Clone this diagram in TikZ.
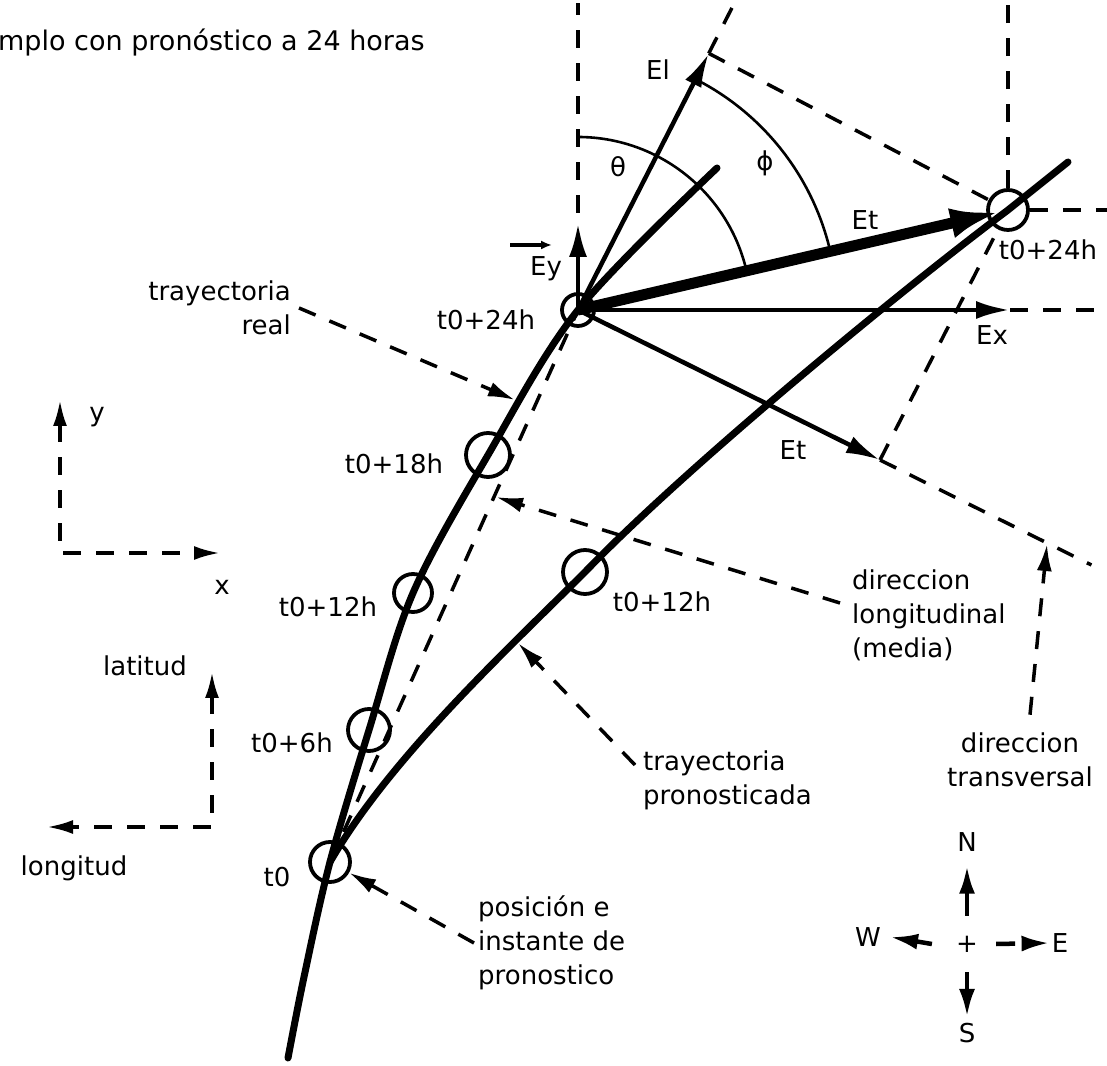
\documentclass[tikz,border=0pt]{standalone}
\usepackage{fontspec}
\setmainfont{DejaVu Sans}
\usepackage{tikz}
\usetikzlibrary{arrows.meta,calc}
\tikzset{
  track/.style={line width=7pt, line cap=round},
  posring/.style={draw, circle, line width=3.8pt, inner sep=0pt, minimum size=40pt},
  guide/.style={line width=3.5pt, dash pattern=on 18pt off 15pt},
  leader/.style={guide, -{Latex[length=27pt,width=15pt]}},
  axisline/.style={guide, {Latex[length=26pt,width=14pt]}-{Latex[length=26pt,width=14pt]}},
  vecarrow/.style={line width=4.5pt, -{Latex[length=34pt,width=18pt]}},
  errarrow/.style={line width=11pt, -{Latex[length=50pt,width=30pt]}},
  anglearc/.style={line width=2.6pt},
  compassarrow/.style={line width=4.5pt, -{Latex[length=28pt,width=16pt]}},
  lbl/.style={font=\fontsize{26}{34}\selectfont, inner sep=0pt},
}

\begin{document}
\begin{tikzpicture}[x=1pt, y=1pt]
  \useasboundingbox (0,0) rectangle (1107,1065);

  % Title
  \node[lbl, font=\fontsize{27}{32}\selectfont, anchor=west] (title) at (-2,1022) {mplo con pronóstico a 24 horas};

  % Positions (real track and forecast)
  \node[posring] (t0) at (330,203) {};
  \node[posring, minimum size=42pt] (t6) at (369,335) {};
  \node[posring, minimum size=38pt] (t12) at (413,472) {};
  \node[posring, minimum size=44pt] (t18) at (488,610) {};
  \node[posring, minimum size=32pt] (t24) at (578,755) {};
  \node[posring, minimum size=44pt] (f12) at (585,493) {};
  \node[posring] (f24) at (1008,855) {};

  \coordinate (rs) at (288,7);
  \coordinate (rb) at (304,88);
  \coordinate (re) at (717,897);
  \coordinate (fe) at (1068,903);
  \coordinate (eltip) at ($(t24)+(63:288)$);
  \coordinate (eltop) at ($(t24)+(63:350)$);
  \coordinate (eytip) at (578,842);
  \coordinate (ntop) at (578,1062);
  \coordinate (extip) at (1010,755);
  \coordinate (exend) at (1107,755);
  \coordinate (ettip) at (880,605);
  \coordinate (trend) at ($(t24)!1.70!(ettip)$);
  \coordinate (ftop) at (1008,1062);
  \coordinate (fright) at (1107,855);

  % Tracks
  \draw[track] plot[smooth, tension=0.55] coordinates {(rs) (rb) (t0.center) (t6.center) (t12.center) (t18.center) (t24.center) (re)};
  \draw[track] (t0.center) .. controls (390,307) and (505,413) .. (f12.center)
    .. controls (682,594) and (896,771) .. (f24.center) -- (fe);

  % Guide lines
  \draw[guide] (t0.center) -- (t24.center);
  \draw[guide] (eltip) -- (eltop);
  \draw[guide, shorten <=10pt] (eytip) -- (ntop);
  \draw[guide] (eltip) -- (f24);
  \draw[guide] (ettip) -- (f24);
  \draw[guide] (ettip) -- (trend);
  \draw[guide] (extip) -- (exend);
  \draw[guide] (f24) -- (ftop);
  \draw[guide] (f24) -- (fright);

  % Error vectors
  \draw[vecarrow] (t24.center) -- (eltip);
  \draw[vecarrow] (t24.center) -- (eytip);
  \draw[vecarrow] (t24.center) -- (extip);
  \draw[vecarrow] (t24.center) -- (ettip);
  \draw[errarrow, shorten >=8pt] (t24.center) -- (f24.center);

  % Angles
  \draw[anglearc] ($(t24)+(90:173)$) arc[start angle=90, end angle=13.1, radius=173];
  \draw[anglearc] ($(t24)+(63:259)$) arc[start angle=63, end angle=13.1, radius=259];

  % Labels
  \node[lbl] (lt0) at (277,188) {t0};
  \node[lbl] (lt6) at (292,322) {t0+6h};
  \node[lbl] (lt12) at (328,458) {t0+12h};
  \node[lbl] (lt18) at (394,601) {t0+18h};
  \node[lbl] (lt24) at (486,745) {t0+24h};
  \node[lbl] (lf12) at (662,463) {t0+12h};
  \node[lbl] (lf24) at (1048,815) {t0+24h};

  \node[lbl] (lel) at (658,995) {El};
  \node[lbl] (ley) at (546,796) {Ey};
  \node[lbl] (let) at (865,845) {Et};
  \node[lbl] (lex) at (992,730) {Ex};
  \node[lbl] (letr) at (793,615) {Et};
  \node[lbl] (ltheta) at (618,898) {θ};
  \node[lbl] (lphi) at (765,902) {ϕ};
  \draw[line width=3.8pt, -{Latex[length=11pt,width=9pt]}] ($(ley)+(-36,24)$) -- ($(ley)+(6,24)$);

  \node[lbl, align=right, anchor=east] (lreal) at (291,757) {trayectoria\\real};
  \node[lbl, align=left, anchor=west] (llong) at (852,450) {direccion\\longitudinal\\(media)};
  \node[lbl, align=center] (ltrans) at (1020,305) {direccion\\transversal};
  \node[lbl, align=left, anchor=west] (lpron) at (643,285) {trayectoria\\pronosticada};
  \node[lbl, align=left, anchor=west] (lpos) at (478,122) {posición e\\instante de\\pronostico};

  % Leaders
  \coordinate (realtip) at (515,665);
  \coordinate (longtip) at (496,568);
  \coordinate (prontip) at (518,422);
  \coordinate (transtip) at (1047,521);
  \draw[leader] ([xshift=8pt]lreal.east) -- (realtip);
  \draw[leader] ($(llong.west)+(-12,12)$) -- (longtip);
  \draw[leader] ($(lpron.west)+(-8,15)$) -- (prontip);
  \draw[leader] ([xshift=10pt,yshift=18pt]ltrans.north) -- (transtip);
  \draw[leader] ([xshift=-4pt]lpos.west) -- (t0);

  % Axes
  \coordinate (xyc) at (60,512);
  \coordinate (ytip) at (60,665);
  \coordinate (xtip) at (220,512);
  \draw[axisline] (ytip) -- (xyc) -- (xtip);
  \node[lbl] (ly) at (97,648) {y};
  \node[lbl] (lx) at (222,478) {x};
  \coordinate (llc) at (212,238);
  \coordinate (lattip) at (212,393);
  \coordinate (lontip) at (47,238);
  \draw[axisline] (lattip) -- (llc) -- (lontip);
  \node[lbl] (llat) at (145,399) {latitud};
  \node[lbl] (llon) at (74,197) {longitud};

  % Compass
  \node[lbl] (cc) at (967,121) {+};
  \node[lbl] (cN) at (967,223) {N};
  \node[lbl] (cS) at (967,32) {S};
  \node[lbl] (cW) at (868,128) {W};
  \node[lbl] (cE) at (1060,122) {E};
  \draw[compassarrow] ([yshift=20pt]cc.north) -- ([yshift=-14pt]cN.south);
  \draw[compassarrow] ([yshift=-20pt]cc.south) -- ([yshift=6pt]cS.north);
  \draw[compassarrow] ([xshift=-24pt]cc.west) -- ([xshift=9pt]cW.east);
  \draw[compassarrow, dash pattern=on 19pt off 8pt] ([xshift=18pt]cc.east) -- ([xshift=-2pt]cE.west);
\end{tikzpicture}
\end{document}
